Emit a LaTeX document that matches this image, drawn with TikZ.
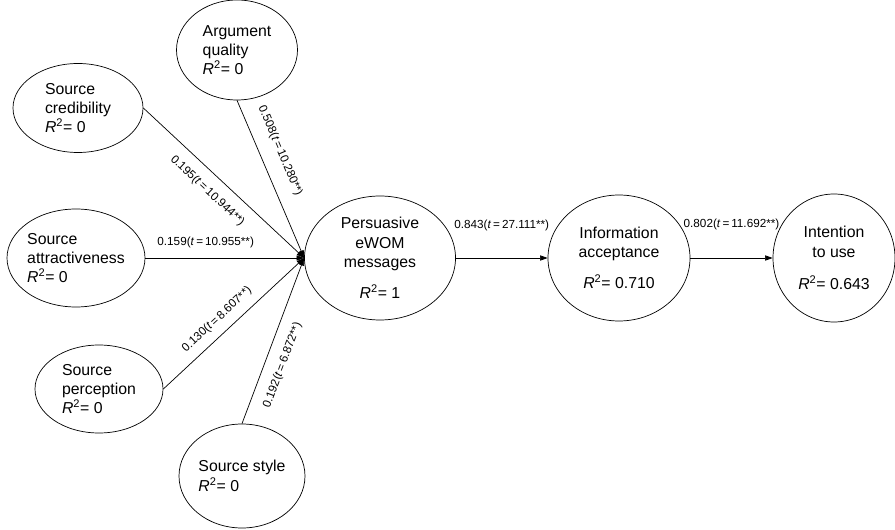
\documentclass[tikz,border=0pt]{standalone}
\usepackage{fontspec}
\setmainfont{Liberation Sans}
\usetikzlibrary{shapes.geometric, arrows.meta, positioning}

\newcommand{\rsq}[1]{\textit{R}\textsuperscript{2}= #1}
\newcommand{\tval}[2]{#1(\textit{t}\,=\,#2**)}

\begin{document}
\begin{tikzpicture}[>={Triangle[length=6.5pt,width=4.5pt]},
    construct/.style={ellipse, draw, line width=0.6pt, inner sep=0pt, font=\fontsize{13.5}{16.5}\selectfont},
    link/.style={->, line width=0.6pt},
    coef/.style={font=\fontsize{10}{12}\selectfont, inner sep=0pt, sloped}]
    \useasboundingbox (0,0) rectangle (26.85,15.87);
    % Source constructs
    \node[construct, minimum width=3.63cm, minimum height=3cm, align=left] (argument) at (7.11,14.37) {Argument\\quality\\\rsq{0}};
    \node[construct, minimum width=3.9cm, minimum height=2.67cm, align=left] (credibility) at (2.34,12.63) {Source\\credibility\\\rsq{0}};
    \node[construct, minimum width=4.08cm, minimum height=2.94cm, align=left] (attractiveness) at (2.28,8.13) {Source\\attractiveness\\\rsq{0}};
    \node[construct, minimum width=3.84cm, minimum height=2.64cm, align=left] (perception) at (2.97,4.2) {Source\\perception\\\rsq{0}};
    \node[construct, minimum width=3.78cm, minimum height=3.12cm, align=left] (style) at (7.26,1.59) {Source style\\\rsq{0}};
    % Main path
    \node[construct, minimum width=4.53cm, minimum height=3.72cm, align=center] (ewom) at (11.4,8.13) {Persuasive\\eWOM\\messages\\[10pt]\rsq{1}};
    \node[construct, minimum width=4.26cm, minimum height=3.78cm, align=center] (info) at (18.57,8.13) {Information\\acceptance\\[10pt]\rsq{0.710}};
    \node[construct, minimum width=3.66cm, minimum height=3.84cm, align=center] (intention) at (25.02,8.13) {Intention\\to use\\[11pt]\rsq{0.643}};
    % Paths into eWOM messages
    \draw[link] (argument.south) -- (ewom.west) node[coef, pos=0.37, above=12pt] (c1) {\tval{0.508}{10.280}};
    \draw[link] (credibility.east) -- (ewom.west) node[coef, pos=0.47, below=9.5pt] (c2) {\tval{0.195}{10.944}};
    \draw[link] (attractiveness.east) -- (ewom.west) node[coef, pos=0.38, above=8pt] (c3) {\tval{0.159}{10.955}};
    \draw[link] (perception.east) -- (ewom.west) node[coef, pos=0.45, above=7.2pt] (c4) {\tval{0.130}{8.607}};
    \draw[link] (style.north) -- (ewom.west) node[coef, pos=0.39, below=10pt] (c5) {\tval{0.192}{6.872}};
    % Acceptance and intention
    \draw[link] (ewom.east) -- (info.west) node[coef, midway, above=22.5pt] (c6) {\tval{0.843}{27.111}};
    \draw[link] (info.east) -- (intention.west) node[coef, midway, above=23.4pt] (c7) {\tval{0.802}{11.692}};
\end{tikzpicture}
\end{document}
